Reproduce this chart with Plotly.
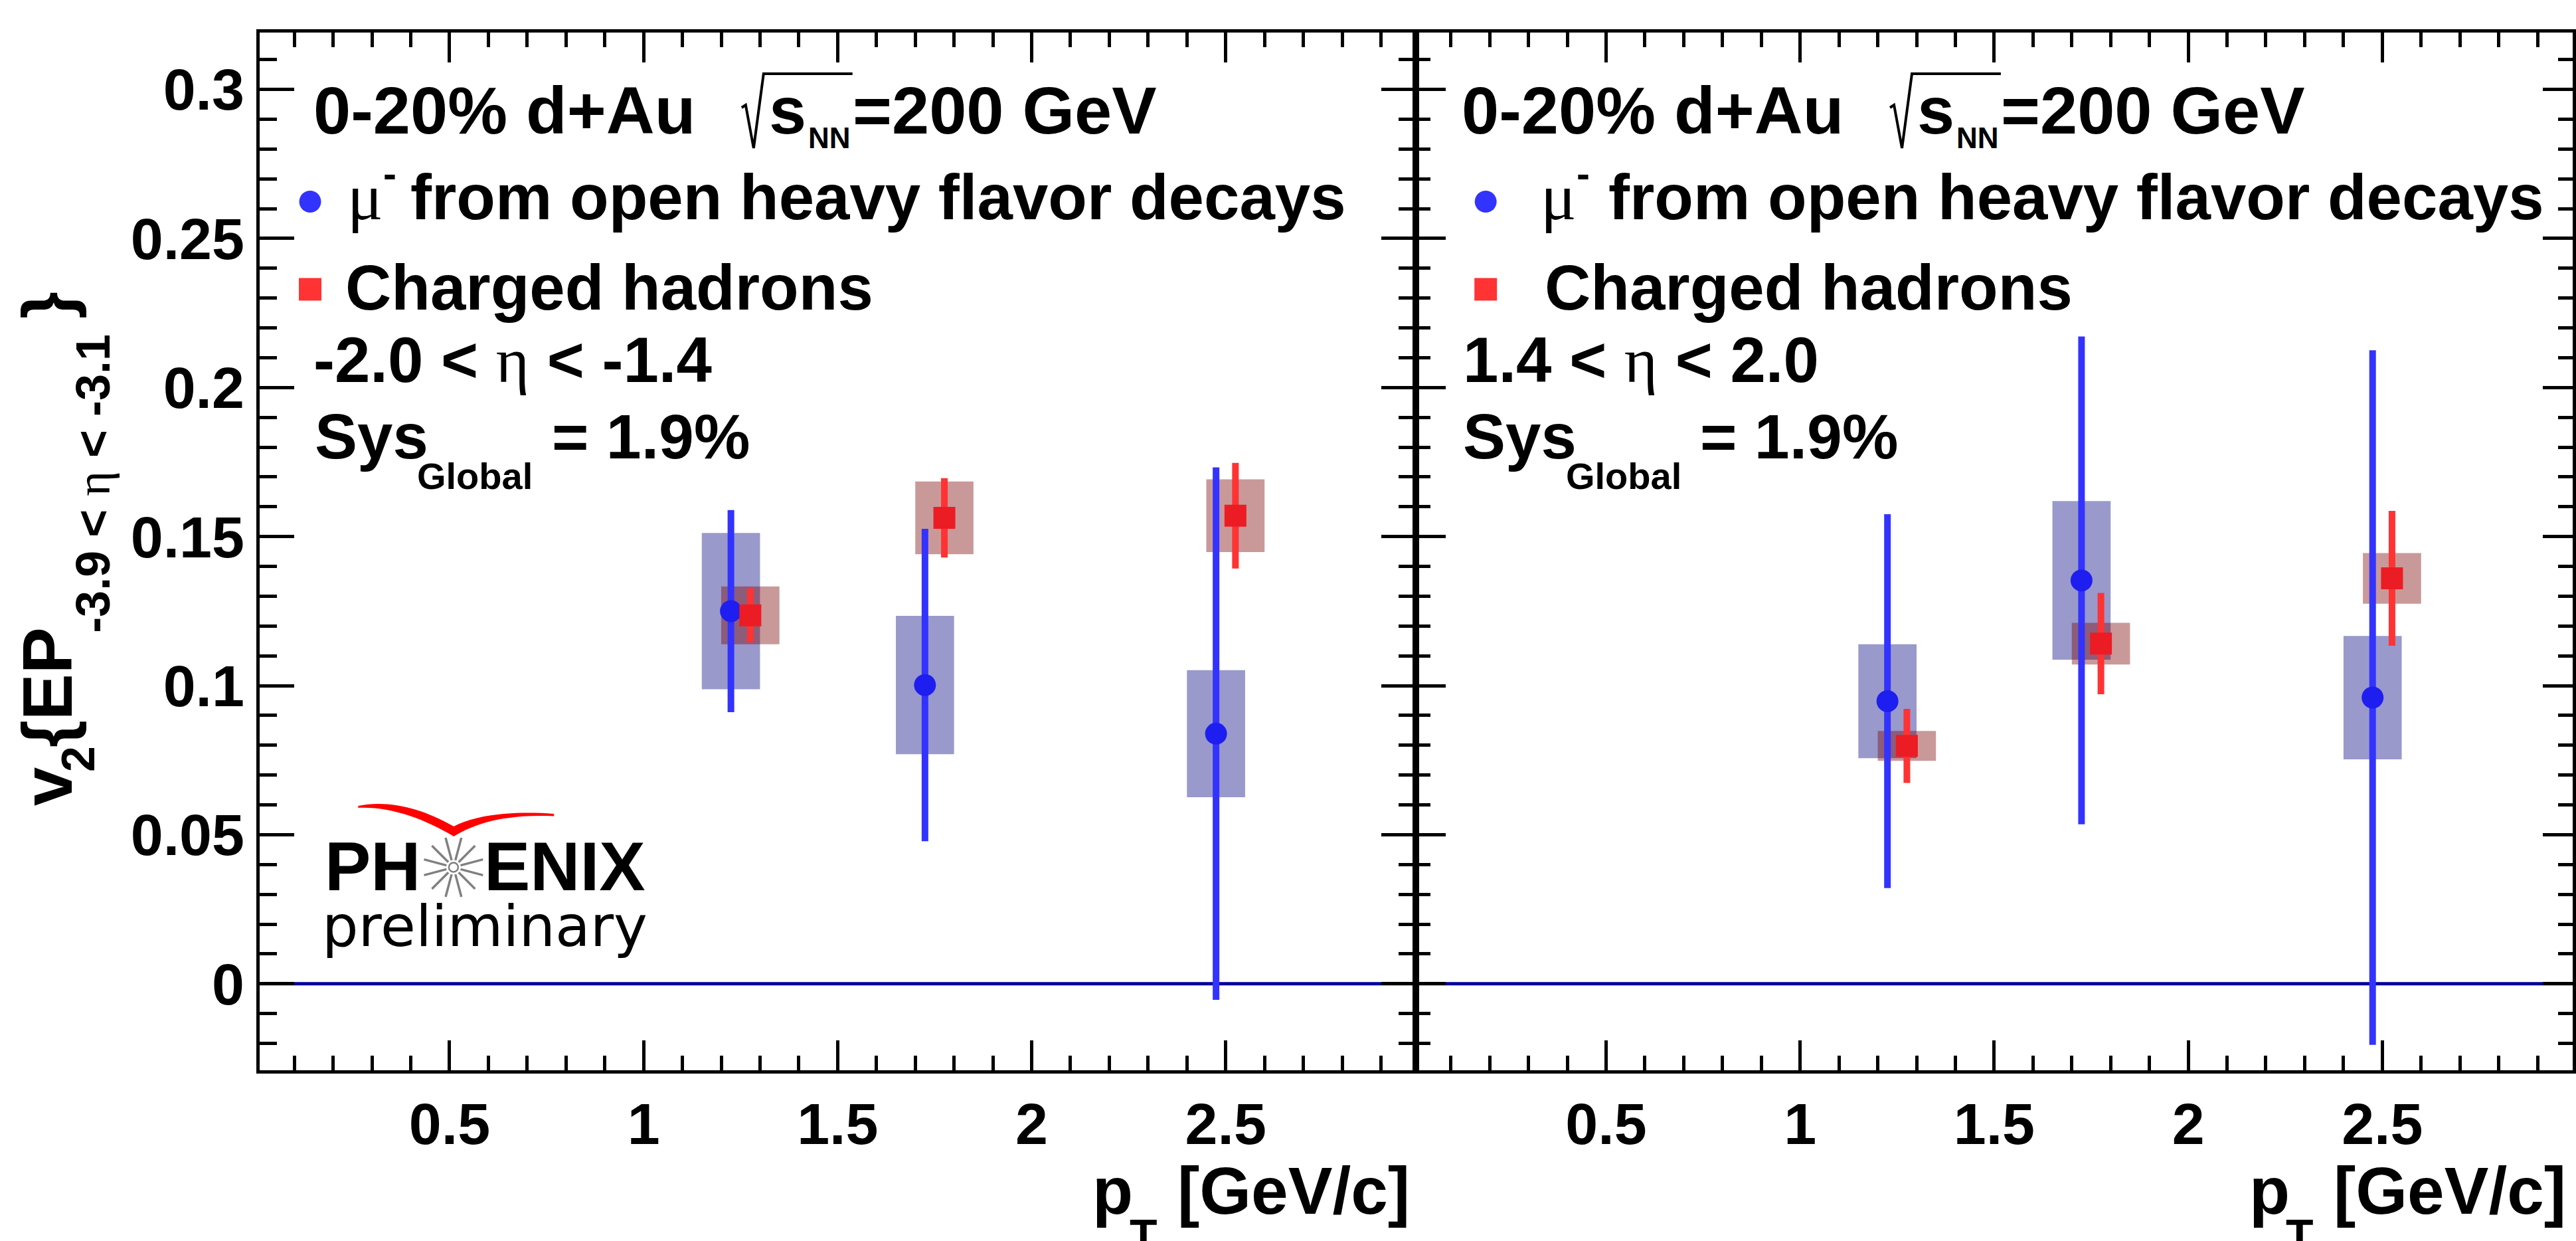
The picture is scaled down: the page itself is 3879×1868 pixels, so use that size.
import math
import plotly.graph_objects as go

W, H = 3879, 1868

# ---------------- data ----------------
pt_muon = [1.225, 1.725, 2.475]
pt_hadron = [1.275, 1.775, 2.525]

# left panel: -2.0 < eta < -1.4
v2_muon_bwd = [0.1250, 0.1002, 0.0839]
stat_muon_bwd = [0.0339, 0.0524, 0.0893]
sys_muon_bwd = [0.0262, 0.0232, 0.0213]
v2_hadron_bwd = [0.1236, 0.1563, 0.1570]
stat_hadron_bwd = [0.0091, 0.0133, 0.0177]
sys_hadron_bwd = [0.0097, 0.0122, 0.0122]

# right panel: 1.4 < eta < 2.0
v2_muon_fwd = [0.0948, 0.1353, 0.0960]
stat_muon_fwd = [0.0627, 0.0818, 0.1165]
sys_muon_fwd = [0.0191, 0.0266, 0.0207]
v2_hadron_fwd = [0.0798, 0.1141, 0.1360]
stat_hadron_fwd = [0.0124, 0.0170, 0.0226]
sys_hadron_fwd = [0.0050, 0.0070, 0.0085]

x_tick_vals = [0.5, 1.0, 1.5, 2.0, 2.5]
x_tick_text = ["0.5", "1", "1.5", "2", "2.5"]
x_minor_vals = [round(0.1 * i, 1) for i in range(1, 30)]
y_tick_vals = [0.0, 0.05, 0.10, 0.15, 0.20, 0.25, 0.30]
y_tick_text = ["0", "0.05", "0.1", "0.15", "0.2", "0.25", "0.3"]
y_minor_vals = [round(0.01 * i, 2) for i in range(-2, 32)]

X_RANGE = [0.01, 2.99]
Y_RANGE = [-0.029, 0.319]

# ---------------- styles ----------------
FONT = "Liberation Sans"
SERIF = "Liberation Serif"
BLUE_BOX = "rgba(0,0,125,0.40)"
RED_BOX = "rgba(120,0,0,0.40)"
BLUE_BAR = "rgb(51,51,255)"
RED_BAR = "rgb(255,51,51)"
BLUE_MK = "rgb(30,30,240)"
RED_MK = "rgb(236,28,36)"
ZERO_LINE = "rgb(0,0,150)"
BOX_WIDTH = 0.15

fx = lambda x: x / W
fy = lambda y: 1 - y / H

fig = go.Figure()


def add_panel(xa, ya, v2m, stm, sym, v2h, sth, syh):
    fig.add_trace(go.Bar(x=pt_muon, y=[2 * s for s in sym], base=[v - s for v, s in zip(v2m, sym)],
                         width=BOX_WIDTH, marker=dict(color=BLUE_BOX, line=dict(width=0)),
                         xaxis=xa, yaxis=ya, showlegend=False, hoverinfo="skip"))
    fig.add_trace(go.Bar(x=pt_hadron, y=[2 * s for s in syh], base=[v - s for v, s in zip(v2h, syh)],
                         width=BOX_WIDTH, marker=dict(color=RED_BOX, line=dict(width=0)),
                         xaxis=xa, yaxis=ya, showlegend=False, hoverinfo="skip"))
    fig.add_trace(go.Scatter(x=pt_muon, y=v2m, mode="markers",
                             marker=dict(symbol="circle", size=33, color=BLUE_MK, line=dict(width=0)),
                             error_y=dict(type="data", array=stm, visible=True, thickness=10, width=0, color=BLUE_BAR),
                             xaxis=xa, yaxis=ya, showlegend=False))
    fig.add_trace(go.Scatter(x=pt_hadron, y=v2h, mode="markers",
                             marker=dict(symbol="square", size=33, color=RED_MK, line=dict(width=0)),
                             error_y=dict(type="data", array=sth, visible=True, thickness=10, width=0, color=RED_BAR),
                             xaxis=xa, yaxis=ya, showlegend=False))


add_panel("x", "y", v2_muon_bwd, stat_muon_bwd, sys_muon_bwd, v2_hadron_bwd, stat_hadron_bwd, sys_hadron_bwd)
add_panel("x2", "y2", v2_muon_fwd, stat_muon_fwd, sys_muon_fwd, v2_hadron_fwd, stat_hadron_fwd, sys_hadron_fwd)

TICKFONT = dict(family=FONT, size=88, color="black", weight="bold")
XL = (391, 2134.3)
XR = (2134.3, 3877.7)
YD = (49.3, 1611)


def xaxis_cfg(dom, anchor):
    return dict(domain=[fx(dom[0]), fx(dom[1])], anchor=anchor, range=X_RANGE,
                showline=True, linecolor="black", linewidth=5, mirror="allticks",
                ticks="inside", ticklen=45, tickwidth=5, tickcolor="black",
                tickmode="array", tickvals=x_tick_vals, ticktext=x_tick_text, tickfont=TICKFONT,
                minor=dict(ticks="inside", ticklen=22, tickwidth=5, tickcolor="black",
                           tickmode="array", tickvals=x_minor_vals),
                showgrid=False, zeroline=False, fixedrange=True)


def yaxis_cfg(anchor, tl, mtl, labels):
    return dict(domain=[fy(YD[1]), fy(YD[0])], anchor=anchor, range=Y_RANGE,
                showline=True, linecolor="black", linewidth=5, mirror="allticks",
                ticks="inside", ticklen=tl, tickwidth=5, tickcolor="black",
                tickmode="array", tickvals=y_tick_vals, ticktext=y_tick_text, tickfont=TICKFONT,
                showticklabels=labels,
                minor=dict(ticks="inside", ticklen=mtl, tickwidth=5, tickcolor="black",
                           tickmode="array", tickvals=y_minor_vals),
                showgrid=False, zeroline=False, fixedrange=True)


annotations = []
shapes = []


def txt(x, y, s, size, family=FONT, weight="bold", xanchor="left", yanchor="middle", angle=0):
    annotations.append(dict(x=fx(x), y=fy(y), xref="paper", yref="paper", text=s, showarrow=False,
                            xanchor=xanchor, yanchor=yanchor, textangle=angle, borderpad=0, borderwidth=0,
                            font=dict(family=family, size=size, color="black", weight=weight)))


def mid(baseline, size, k=0.3465):
    return baseline - k * size


ETA = '<span style="font-family:\'Liberation Serif\';font-weight:normal">η</span>'

# ---------- per-panel legend text ----------
for dx, eta_txt in [(0, "-2.0 &lt; " + ETA + " &lt; -1.4"), (1731, "1.4 &lt; " + ETA + " &lt; 2.0")]:
    L = 472 + dx
    txt(L, mid(200.5, 101), "0-20% d+Au", 101)
    txt(1159 + dx, mid(200.5, 101), "s", 101)
    txt(1218 + dx, mid(223, 44), "NN", 44)
    txt(1285 + dx, mid(200.5, 101), "=200 GeV", 101)
    shapes.append(dict(type="path", xref="paper", yref="paper",
                       path=f"M {fx(1118 + dx)},{fy(162)} L {fx(1124 + dx)},{fy(158)} L {fx(1136 + dx)},{fy(223)} "
                            f"L {fx(1151 + dx)},{fy(111)} L {fx(1285 + dx)},{fy(111)}",
                       line=dict(color="black", width=4)))
    # markers
    mx = 467.5 + (2239.5 - 467.5) * (dx > 0)
    r = 16.5
    shapes.append(dict(type="circle", xref="paper", yref="paper", x0=fx(mx - r), x1=fx(mx + r),
                       y0=fy(303.5 + r), y1=fy(303.5 - r), fillcolor=BLUE_BAR, line=dict(width=0)))
    shapes.append(dict(type="rect", xref="paper", yref="paper", x0=fx(mx - 17), x1=fx(mx + 17),
                       y0=fy(435.5 + 17), y1=fy(435.5 - 17), fillcolor=RED_BAR, line=dict(width=0)))
    mu_x = 524 if dx == 0 else 2322
    txt(mu_x, mid(330, 100, 0.3375), "μ", 100, family=SERIF, weight="normal")
    txt(mu_x + 54, 262, "-", 60)
    from_x = 619 if dx == 0 else 2424
    txt(from_x, mid(330, 96), "from open heavy flavor decays", 96)
    ch_x = 521 if dx == 0 else 2328
    txt(ch_x, mid(465.7, 96), "Charged hadrons", 96)
    txt(472 + dx if dx == 0 else 2205, mid(575.5, 96), eta_txt, 96)
    sx = 474 if dx == 0 else 2205
    txt(sx, mid(690, 96), "Sys", 96)
    txt(sx + 155, mid(736, 56), "Global", 56)
    txt(sx + 358, mid(690, 96), "= 1.9%", 95)

# ---------- x titles ----------
for dx in (0, -1743.4):
    txt(3390 + dx, mid(1827, 100), "p", 100)
    txt(3446 + dx, mid(1882.7, 68), "T", 68)
    txt(3518 + dx, mid(1827, 100), "[GeV/c]", 100)

# ---------- y title (rotated) ----------
txt(71.6, 1184.8, "v", 105, xanchor="center", angle=-90)
txt(117.7, 1142.5, "2", 70, xanchor="center", angle=-90)
txt(71.6, 1034.5, "{EP", 105, xanchor="center", angle=-90)
txt(140, 728, "-3.9 &lt; " + ETA + " &lt; -3.1", 72, xanchor="center", angle=-90)
txt(71.6, 459.5, "}", 105, xanchor="center", angle=-90)

# ---------- PHENIX preliminary logo ----------
txt(490, 1304, "PH", 104)
txt(730, 1304, "ENIX", 104)
txt(486, mid(1423.7, 86, 0.346), "preliminary", 86, family="DejaVu Sans", weight="normal")
cx, cy = 683.6, 1305.5
for k in range(12):
    a = math.radians(15 + 30 * k)
    sx_, sy_ = math.sin(a), -math.cos(a)
    shapes.append(dict(type="line", xref="paper", yref="paper",
                       x0=fx(cx + 11 * sx_), y0=fy(cy + 11 * sy_), x1=fx(cx + 46 * sx_), y1=fy(cy + 46 * sy_),
                       line=dict(color="rgb(128,128,128)", width=3.5)))
shapes.append(dict(type="circle", xref="paper", yref="paper", x0=fx(cx - 7), x1=fx(cx + 7),
                   y0=fy(cy + 7), y1=fy(cy - 7), line=dict(color="rgb(128,128,128)", width=2.5)))
sw = [(540, 1213), (585, 1204), (635, 1216), (684, 1244), (715, 1228), (765, 1220), (835, 1225),
      (835, 1228.5), (775, 1226), (725, 1234), (684, 1259), (640, 1233), (590, 1214), (540, 1216)]
p = lambda i: f"{fx(sw[i][0])},{fy(sw[i][1])}"
path = (f"M {p(0)} C {p(1)} {p(2)} {p(3)} C {p(4)} {p(5)} {p(6)} L {p(7)} "
        f"C {p(8)} {p(9)} {p(10)} C {p(11)} {p(12)} {p(13)} Z")
shapes.append(dict(type="path", xref="paper", yref="paper", path=path, fillcolor="rgb(255,0,0)",
                   line=dict(width=0)))

# zero lines
for xr, yr in (("x domain", "y"), ("x2 domain", "y2")):
    shapes.append(dict(type="line", xref=xr, yref=yr, x0=0, x1=1, y0=0, y1=0,
                       line=dict(color=ZERO_LINE, width=5), layer="below"))

fig.update_layout(
    width=W, height=H, margin=dict(l=0, r=0, t=0, b=0),
    paper_bgcolor="white", plot_bgcolor="white", barmode="overlay", showlegend=False,
    xaxis=xaxis_cfg(XL, "y"), yaxis=yaxis_cfg("x", 52, 26, True),
    xaxis2=xaxis_cfg(XR, "y2"), yaxis2=yaxis_cfg("x2", 45, 22, False),
    annotations=annotations, shapes=shapes,
)

fig.write_html("out.html")
